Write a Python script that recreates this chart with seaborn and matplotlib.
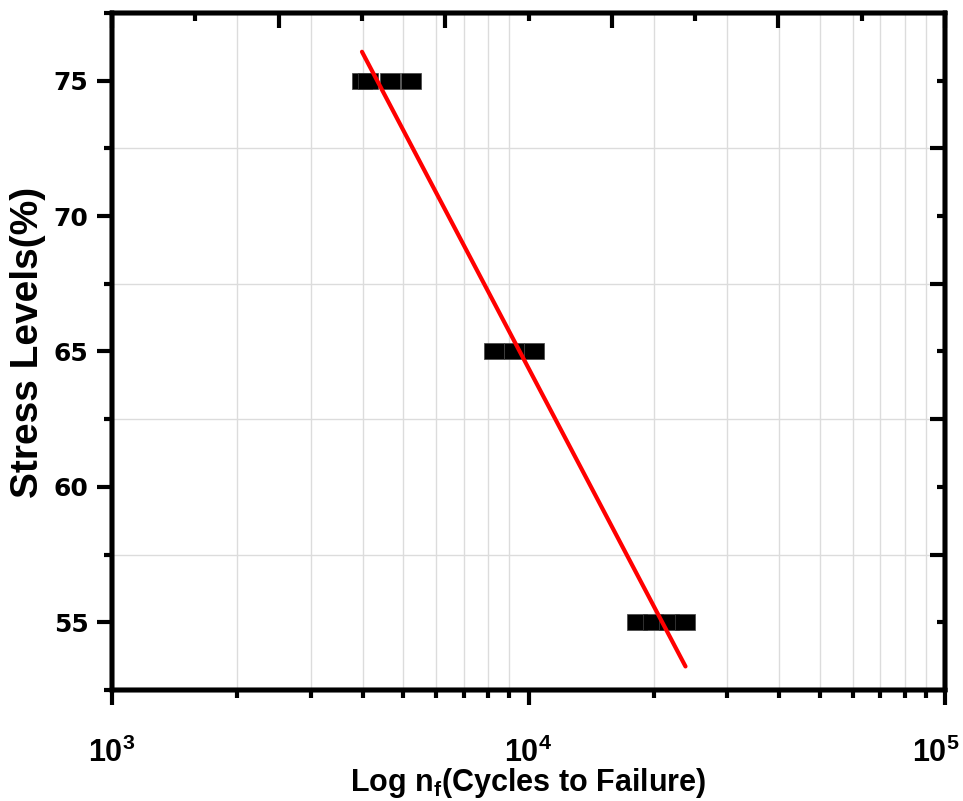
import numpy as np
import pandas as pd
import matplotlib
matplotlib.use("Agg")
import matplotlib.pyplot as plt
import matplotlib.transforms as mtransforms
from matplotlib.ticker import FixedLocator, NullFormatter, LogLocator
import seaborn as sns

sns.set_theme(style="white")
plt.rcParams["font.family"] = ["Liberation Sans", "DejaVu Sans"]
for k in ("text.color", "axes.labelcolor", "xtick.color", "ytick.color", "axes.edgecolor"):
    plt.rcParams[k] = "black"
plt.rcParams["mathtext.fontset"] = "custom"
plt.rcParams["mathtext.rm"] = "Liberation Sans:bold"
plt.rcParams["mathtext.bf"] = "Liberation Sans:bold"
plt.rcParams["mathtext.it"] = "Liberation Sans:bold"
plt.rcParams["mathtext.default"] = "bf"

# ---- data ----
cycles_75 = [3983, 4117, 4650, 5223]
cycles_65 = [8264, 9231, 10309]
cycles_55 = [18170, 19910, 21750, 23820]
stress_levels = [75, 65, 55]
y_ticks = [55, 60, 65, 70, 75]
x_tick_labels = [r"$10^{3}$", r"$10^{4}$", r"$10^{5}$"]
x_label = r"Log n$_{f}$(Cycles to Failure)"
y_label = "Stress Levels(%)"

cycles = cycles_75 + cycles_65 + cycles_55
stress = ([stress_levels[0]] * len(cycles_75) + [stress_levels[1]] * len(cycles_65)
          + [stress_levels[2]] * len(cycles_55))
df = pd.DataFrame({"cycles": cycles, "stress": stress})

fig = plt.figure(figsize=(9.63, 8.01), dpi=100)
ax = fig.add_axes([112 / 963, 1 - 690 / 801, (945 - 112) / 963, (690 - 13) / 801])
ax.set_xscale("log")

rect = [(-1, -0.85), (1, -0.85), (1, 0.85), (-1, 0.85), (-1, -0.85)]
sns.scatterplot(data=df, x="cycles", y="stress", marker=rect, s=195,
                color="black", edgecolor="#444444", linewidth=0.5, ax=ax, zorder=3)
sns.regplot(data=df, x="cycles", y="stress", logx=True, scatter=False, ci=None,
            truncate=True, line_kws=dict(color="#ff0000", lw=3.0, solid_capstyle="round", zorder=4), ax=ax)

ax.set_xlim(1e3, 1e5)
ax.set_ylim(52.5, 77.5)
ax.set_xticks([1e3, 1e4, 1e5])
ax.set_xticklabels(x_tick_labels)
ax.xaxis.set_minor_locator(LogLocator(base=10, subs=np.arange(2, 10)))
ax.xaxis.set_minor_formatter(NullFormatter())
ax.set_yticks(y_ticks)
ax.yaxis.set_minor_locator(FixedLocator([52.5, 57.5, 62.5, 67.5, 72.5, 77.5]))

ax.grid(False)
ax.xaxis.grid(True, which="minor", color="#dcdcdc", lw=1.0)
ax.yaxis.grid(True, which="minor", color="#dcdcdc", lw=1.0)
ax.set_axisbelow(True)

ax.tick_params(axis="both", which="major", direction="out", length=11, width=3,
               bottom=True, left=True, top=False, right=False)
ax.tick_params(axis="both", which="minor", direction="out", length=6, width=3,
               bottom=True, left=True, top=False, right=False)
ax.tick_params(axis="x", which="major", labelsize=22, pad=23)
ax.tick_params(axis="y", which="major", labelsize=18, pad=6)
for t in ax.get_yticklabels():
    t.set_fontweight("bold")
    t.set_family(["DejaVu Sans"])
# keep the last x tick label inside the canvas
last = ax.get_xticklabels()[-1]
last.set_transform(last.get_transform() + mtransforms.ScaledTranslation(-9 / 100, 0, fig.dpi_scale_trans))

ax.set_xlabel(x_label, fontsize=22, fontweight="bold")
ax.set_ylabel(y_label, fontsize=28, fontweight="bold")
ax.xaxis.set_label_coords(0.5, (690 - 783) / 677)
ax.xaxis.label.set_va("center")
ax.yaxis.set_label_coords((28 - 112) / 833, (690 - 342) / 677)
ax.yaxis.label.set_va("center")

# mirrored frame ticks (top: linear subdivisions, right: offset half steps)
axt = ax.twiny()
axt.set_xlim(0, 10)
axt.set_xticks([0, 2, 4, 6, 8, 10])
axt.xaxis.set_minor_locator(FixedLocator([1, 3, 5, 7, 9]))
axt.tick_params(axis="x", which="major", direction="in", length=11, width=3, labeltop=False, top=True)
axt.tick_params(axis="x", which="minor", direction="in", length=6, width=3, top=True)
axt.grid(False)

axr = ax.twinx()
axr.set_ylim(52.5, 77.5)
axr.set_yticks([57.5, 62.5, 67.5, 72.5])
axr.yaxis.set_minor_locator(FixedLocator([55, 60, 65, 70, 75]))
axr.tick_params(axis="y", which="major", direction="in", length=11, width=3, labelright=False, right=True)
axr.tick_params(axis="y", which="minor", direction="in", length=6, width=3, right=True)
axr.grid(False)
for a in (ax, axt, axr):
    for sp in a.spines.values():
        sp.set_linewidth(3.2)
        sp.set_color("black")

fig.savefig("out.png", dpi=100)
